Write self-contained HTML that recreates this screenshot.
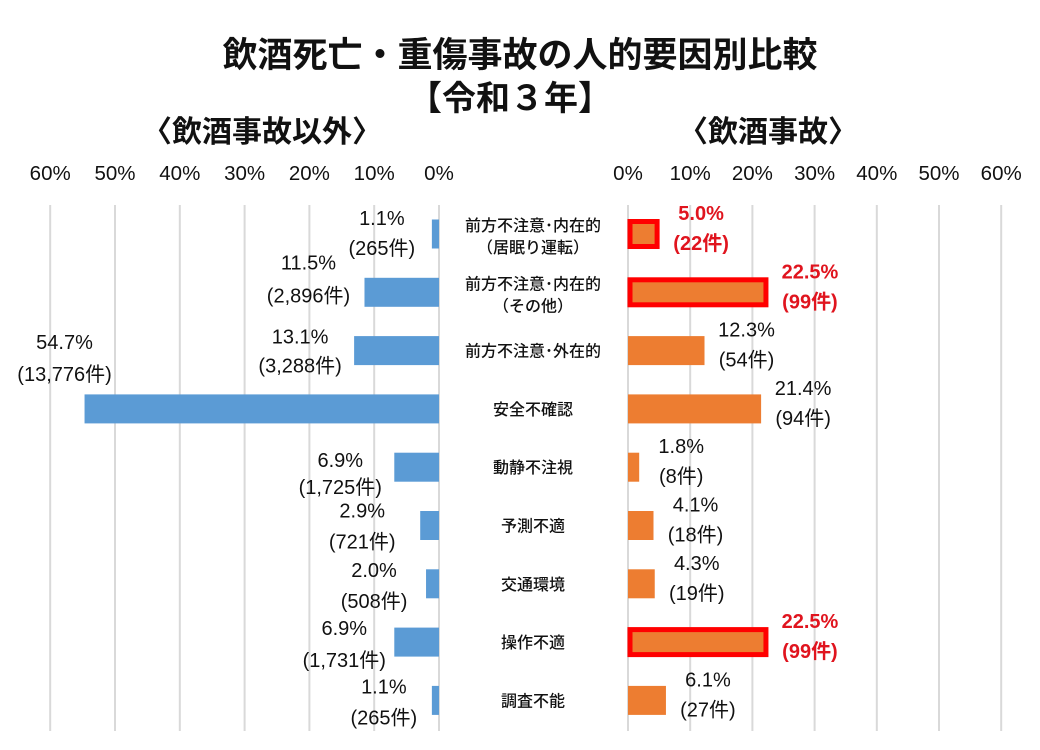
<!DOCTYPE html>
<html><head><meta charset="utf-8">
<style>
body{margin:0;background:#fff;}
svg{display:block;font-family:"Liberation Sans","Noto Sans CJK JP",sans-serif;}
</style></head>
<body>
<svg id="chart" width="1040" height="750" viewBox="0 0 1040 750">
<text x="520" y="67" text-anchor="middle" font-size="35" font-weight="bold" fill="#111">飲酒死亡・重傷事故の人的要因別比較</text>
<text x="510" y="110" text-anchor="middle" font-size="34" font-weight="bold" fill="#111">【令和３年】</text>
<text x="262" y="142" text-anchor="middle" font-size="30" font-weight="bold" fill="#111">〈飲酒事故以外〉</text>
<text x="768" y="142" text-anchor="middle" font-size="30" font-weight="bold" fill="#111">〈飲酒事故〉</text>
<g id="grid"></g><g id="bars"></g><g id="labels"></g>
</svg>
<script>
const categories=["前方不注意･内在的|（居眠り運転）","前方不注意･内在的|（その他）","前方不注意･外在的","安全不確認","動静不注視","予測不適","交通環境","操作不適","調査不能"];
const leftPct=[1.1,11.5,13.1,54.7,6.9,2.9,2.0,6.9,1.1];
const leftCount=["265","2,896","3,288","13,776","1,725","721","508","1,731","265"];
const rightPct=[5.0,22.5,12.3,21.4,1.8,4.1,4.3,22.5,6.1];
const rightCount=["22","99","54","94","8","18","19","99","27"];
const highlight=[true,true,false,false,false,false,false,true,false];
const ticks=[0,10,20,30,40,50,60];

const NS="http://www.w3.org/2000/svg";
const L0=439,Lk=6.48,R0=628,Rk=6.22,rowTop=234,rowStep=58.3,barH=29;
const lx=v=>L0-v*Lk, rx=v=>R0+v*Rk, ry=i=>rowTop+i*rowStep;
const leftDy=[[-16,14],[-30,3],[-14,15],[-67,-35],[-7,20],[-15,16],[-14,17],[-14,18],[-14,17]];
const leftDx=[-50,-56,-54,-20,-54,-58,-52,-50,-48];
function el(t,a,p){const e=document.createElementNS(NS,t);for(const k in a)e.setAttribute(k,a[k]);document.getElementById(p).appendChild(e);return e;}
ticks.forEach(t=>{
  let g=el('line',{x1:lx(t),x2:lx(t),y1:205,y2:731,stroke:'#d9d9d9','stroke-width':2},'grid');
  
  
  let g2=el('line',{x1:rx(t),x2:rx(t),y1:205,y2:731,stroke:'#d9d9d9','stroke-width':2},'grid');
  
  
  let a=el('text',{x:lx(t),y:180,'text-anchor':'middle','font-size':20.5,fill:'#111'},'labels');a.textContent=t+'%';
  
  
  let b=el('text',{x:rx(t),y:180,'text-anchor':'middle','font-size':20.5,fill:'#111'},'labels');b.textContent=t+'%';
  
  
});
categories.forEach((c,i)=>{
  const cy=ry(i);
  let lb=el('rect',{x:lx(leftPct[i]),y:cy-barH/2,width:leftPct[i]*Lk,height:barH,fill:'#5b9bd5'},'bars');
  
  
  const w=rightPct[i]*Rk;
  let rb;
  if(highlight[i]){rb=el('rect',{x:R0+2,y:cy-barH/2+2,width:w-4,height:barH-4,fill:'#ed7d31',stroke:'#ff0000','stroke-width':5},'bars');}
  else rb=el('rect',{x:R0,y:cy-barH/2,width:w,height:barH,fill:'#ed7d31'},'bars');
  
  
  const parts=c.split('|');
  parts.forEach((p,j)=>{
    const yy=parts.length>1?cy-3+j*22:cy+6;
    let t=el('text',{x:533,y:yy,'text-anchor':'middle','font-size':16,'font-weight':'500',fill:'#111'},'labels');t.textContent=p;
    
    
  });
  const lxx=lx(leftPct[i])+leftDx[i];
  let p1=el('text',{x:lxx,y:cy+leftDy[i][0]+7,'text-anchor':'middle','font-size':20,fill:'#111'},'labels');p1.textContent=leftPct[i].toFixed(1)+'%';
  
  
  let p2=el('text',{x:lxx,y:cy+leftDy[i][1]+7,'text-anchor':'middle','font-size':20,fill:'#111'},'labels');p2.textContent='('+leftCount[i]+'件)';
  
  
  const rxx=rx(rightPct[i])+42, col=highlight[i]?'#e0141e':'#111', fw=highlight[i]?'bold':'normal';
  let q1=el('text',{x:rxx,y:cy-14,'text-anchor':'middle','font-size':20,fill:col,'font-weight':fw},'labels');q1.textContent=rightPct[i].toFixed(1)+'%';
  
  
  let q2=el('text',{x:rxx,y:cy+16,'text-anchor':'middle','font-size':20,fill:col,'font-weight':fw},'labels');q2.textContent='('+rightCount[i]+'件)';
  
  
});
</script>
</body></html>
